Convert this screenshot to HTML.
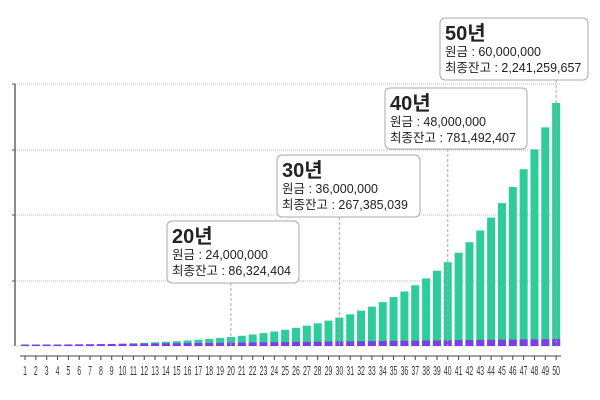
<!DOCTYPE html>
<html><head><meta charset="utf-8"><style>
body{margin:0;background:#fff;}
svg{display:block;font-family:"Liberation Sans","Noto Sans CJK KR",sans-serif;}
</style></head><body>
<svg id="s" width="600" height="400" viewBox="0 0 600 400"></svg>
<script>
const s=document.getElementById('s');let h='';
[84,150,215,281].forEach(y=>{h+=`<line x1="15" y1="${y}" x2="560" y2="${y}" stroke="#bbb" stroke-dasharray="1,1"/>`;h+=`<line x1="12" y1="${y}" x2="15" y2="${y}" stroke="#555"/>`;});
h+=`<line x1="15" y1="84" x2="15" y2="346" stroke="#666" stroke-width="1.5"/>`;
h+=`<line x1="12" y1="346" x2="560" y2="346" stroke="#ccc" stroke-dasharray="1,1"/>`;
h+=`<line x1="20" y1="356" x2="561" y2="356" stroke="#444"/>`;
const m=0.106/12,S=245/2241259657;
function F(n){const k=12*n;return 100000*(Math.pow(1+m,k)-1)/m*(1+m);}
for(let n=1;n<=50;n++){
 const cx=25+(n-1)*10.84;
 let v=F(n);
 const sc=v*S; let gh=Math.max(1.5,sc);
 const ph=Math.max(1.5,n*1200000*S*0.9+1);
 h+=`<rect x="${cx-4}" y="${346-gh}" width="8" height="${gh}" fill="#2ecc9b"/>`;
 h+=`<rect x="${cx-4}" y="${346-ph}" width="8" height="${ph}" fill="#7a3fe6"/>`;
 h+=`<line x1="${cx}" y1="356" x2="${cx}" y2="360" stroke="#444"/>`;
 h+=`<text x="${cx}" y="375" font-size="12.5" text-anchor="middle" fill="#333" transform="translate(${cx},0) scale(0.55,1) translate(${-cx},0)">${n}</text>`;
}
const boxes=[[20,167,221,132,62,'24,000,000','86,324,404'],[30,277,155,143,62,'36,000,000','267,385,039'],[40,385,88,142,61,'48,000,000','781,492,407'],[50,440,18,148,62,'60,000,000','2,241,259,657']];
boxes.forEach(b=>{const cx=25+(b[0]-1)*10.84;
 h+=`<line x1="${cx}" y1="${b[2]+b[4]}" x2="${cx}" y2="346" stroke="#aaa" stroke-dasharray="3,2"/>`;
 h+=`<rect x="${b[1]}" y="${b[2]}" width="${b[3]}" height="${b[4]}" rx="5" fill="#fff" stroke="#aaa"/>`;
 h+=`<text x="${b[1]+5}" y="${b[2]+22}" font-size="20" font-weight="bold" fill="#222">${b[0]}년</text>`;
 h+=`<text x="${b[1]+5}" y="${b[2]+38}" font-size="12.5" fill="#222">원금 : ${b[5]}</text>`;
 h+=`<text x="${b[1]+5}" y="${b[2]+54}" font-size="12.5" fill="#222">최종잔고 : ${b[6]}</text>`;
});
s.innerHTML=h;
</script>
</body></html>
